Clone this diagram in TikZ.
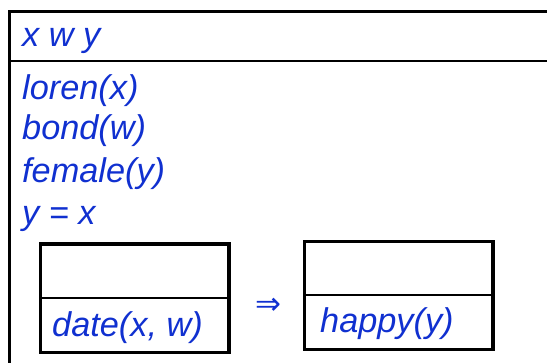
\documentclass[tikz,border=0pt]{standalone}
\usepackage{fontspec}
\setmainfont{Liberation Sans}
\newfontfamily\arrowfont{DejaVu Sans}
\definecolor{txtblue}{RGB}{16,48,208}
\begin{document}
\begin{tikzpicture}[x=1pt,y=1pt,
  lbl/.style={anchor=base west,inner sep=0pt,text=txtblue,font=\fontsize{34.3}{40}\selectfont\itshape},
  boxframe/.style={draw=black,line width=3.5pt,inner sep=0pt,outer sep=0pt,fill=white},
  outerframe/.style={draw=black,line width=3pt,inner sep=0pt,outer sep=0pt},
  divider/.style={draw=black,line width=2pt}]
\useasboundingbox (0,0) rectangle (547,363);
\clip (0,0) rectangle (547,363);
% outer box (extends past right and bottom edges)
\node[outerframe,minimum width=560pt,minimum height=380pt,anchor=north west] (outer) at (9.5,351.5) {};
\coordinate (hdl) at (9.5,302);
\coordinate (hdr) at (569.5,302);
\draw[divider] (hdl) -- (hdr);
% texts
\node[lbl] (vars) at (22,316) {x w y};
\node[lbl] (c1) at (22,263) {loren(x)};
\node[lbl] (c2) at (22,223) {bond(w)};
\node[lbl] (c3) at (22,180) {female(y)};
\node[lbl] (c4) at (22,138) {y = x};
% inner boxes
\node[boxframe,minimum width=188.5pt,minimum height=108.5pt] (lbox) at (134.75,64.75) {};
\draw[divider] (lbox.west) -- (lbox.east);
\node[lbl] (lt) at (52,26) {date(x, w)};
\node[boxframe,minimum width=188.5pt,minimum height=108pt] (rbox) at (398.75,67.5) {};
\draw[divider] (rbox.west) -- (rbox.east);
\node[lbl] (rt) at (320,30) {happy(y)};
% implication
\node[inner sep=0pt,text=txtblue,font=\arrowfont\fontsize{31}{36}\selectfont] (imp) at (268,57) {⇒};
\end{tikzpicture}
\end{document}
